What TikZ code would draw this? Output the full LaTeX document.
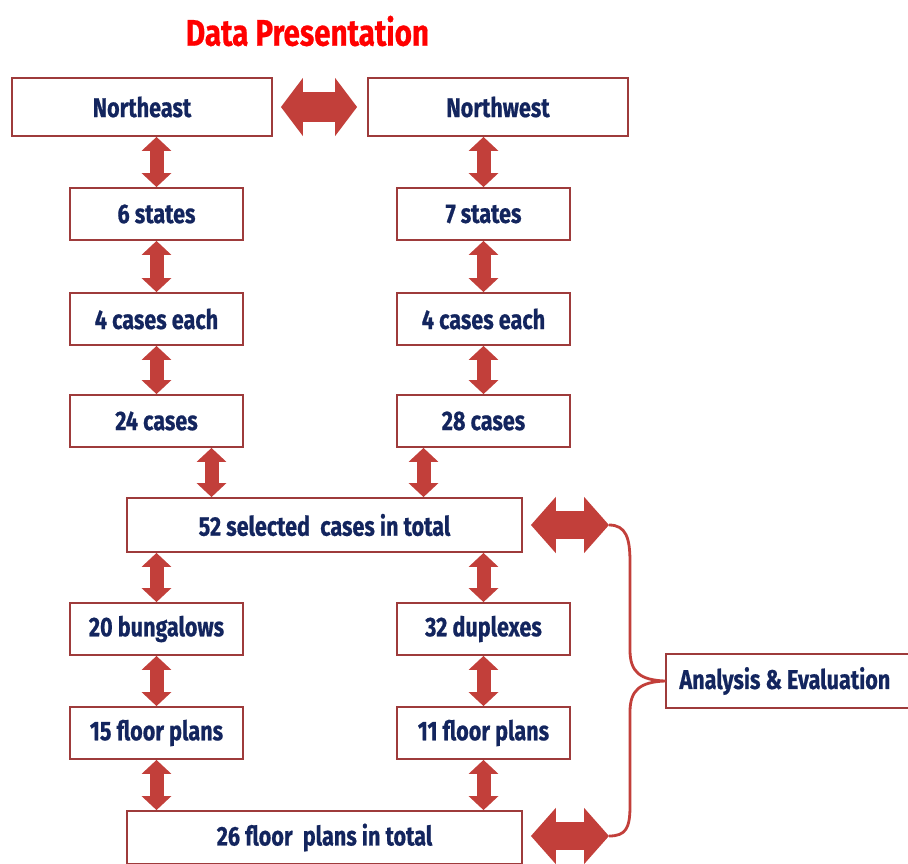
\documentclass[tikz,border=0pt]{standalone}
\usepackage{fontspec}
\newfontfamily\boxfont{Fira Sans}[FakeStretch=0.8,BoldFeatures={FakeBold=0.6}]
\usetikzlibrary{arrows.meta,calc}
\definecolor{boxred}{HTML}{9E3B3B}
\definecolor{arrred}{HTML}{C23F3A}
\definecolor{navy}{HTML}{13255E}
\definecolor{titlered}{HTML}{FF0000}
\tikzset{
  box/.style={draw=boxred,line width=1.8pt,fill=white,inner sep=0pt,
    font=\boxfont\bfseries\fontsize{27}{30}\selectfont,text=navy},
  smallbox/.style={box,minimum width=173pt,minimum height=52pt},
  widebox/.style={box,minimum width=395pt,minimum height=53pt},
  varrow/.style={arrred,line width=14pt,
    {Triangle[width=29pt,length=14pt]}-{Triangle[width=29pt,length=14pt]}},
  harrow/.style={arrred,line width=30pt,
    {Triangle[width=57pt,length=22pt]}-{Triangle[width=57pt,length=22pt]}},
  rarrow/.style={arrred,line width=28pt,
    {Triangle[width=55pt,length=25pt]}-{Triangle[width=55pt,length=25pt]}},
  bracestyle/.style={draw=arrred,line width=2.8pt,line join=round}
}
\begin{document}
\begin{tikzpicture}[x=1pt,y=-1pt]
\useasboundingbox (0,0) rectangle (908,863);
\node[text=titlered,font=\boxfont\bfseries\fontsize{37}{40}\selectfont] (title) at (307.5,31) {Data Presentation};

\node[box,minimum width=260pt,minimum height=58pt] (ne) at (142,107) {Northeast};
\node[box,minimum width=260pt,minimum height=58pt] (nw) at (498,107) {Northwest};

\node[smallbox] (s6) at (156.5,214) {6 states};
\node[smallbox] (s7) at (483.5,214) {7 states};
\node[smallbox] (c4l) at (156.5,319) {4 cases each};
\node[smallbox] (c4r) at (483.5,319) {4 cases each};
\node[smallbox] (c24) at (156.5,421) {24 cases};
\node[smallbox] (c28) at (483.5,421) {28 cases};
\node[widebox,minimum height=54pt] (n52) at (324.5,525) {52 selected\ \ cases in total};
\node[smallbox] (bung) at (156.5,629) {20 bungalows};
\node[smallbox] (dup) at (483.5,629) {32 duplexes};
\node[smallbox] (f15) at (156.5,733) {15 floor plans};
\node[smallbox] (f11) at (483.5,733) {11 floor plans};
\node[widebox] (n26) at (324.5,837.5) {26 floor\ \ plans in total};
\node[box,minimum width=248pt,minimum height=54pt,anchor=west] (ae) at (665,681) {\hspace*{-10pt}Analysis \& Evaluation};

% top horizontal arrow
\draw[harrow] ([xshift=8pt]ne.east) -- ([xshift=-10pt]nw.west);

% vertical arrows
\draw[varrow] (ne.south -| s6.north) -- (s6.north);
\draw[varrow] (nw.south -| s7.north) -- (s7.north);
\draw[varrow] (s6.south) -- (c4l.north);
\draw[varrow] (s7.south) -- (c4r.north);
\draw[varrow] (c4l.south) -- (c24.north);
\draw[varrow] (c4r.south) -- (c28.north);
\draw[varrow] ([xshift=55pt]c24.south) -- ([xshift=55pt]c24.south |- n52.north);
\draw[varrow] ([xshift=-60pt]c28.south) -- ([xshift=-60pt]c28.south |- n52.north);
\draw[varrow] (n52.south -| bung.north) -- (bung.north);
\draw[varrow] (n52.south -| dup.north) -- (dup.north);
\draw[varrow] (bung.south) -- (f15.north);
\draw[varrow] (dup.south) -- (f11.north);
\draw[varrow] (f15.south) -- (f15.south |- n26.north);
\draw[varrow] (f11.south) -- (f11.south |- n26.north);

% right arrows and brace
\coordinate (bt) at (609,525);
\coordinate (bb) at (609,836);
\draw[rarrow] ([xshift=8pt]n52.east) -- (bt);
\draw[rarrow] ([xshift=8pt]n26.east |- bb) -- (bb);
\draw[bracestyle] (bt) .. controls (626,525) and (630,538) .. (630,562)
  -- (630,650) .. controls (630,672) and (640,680) .. (ae.west)
  .. controls (640,682) and (630,690) .. (630,712)
  -- (630,806) .. controls (630,828) and (626,836) .. (bb);
\end{tikzpicture}
\end{document}
